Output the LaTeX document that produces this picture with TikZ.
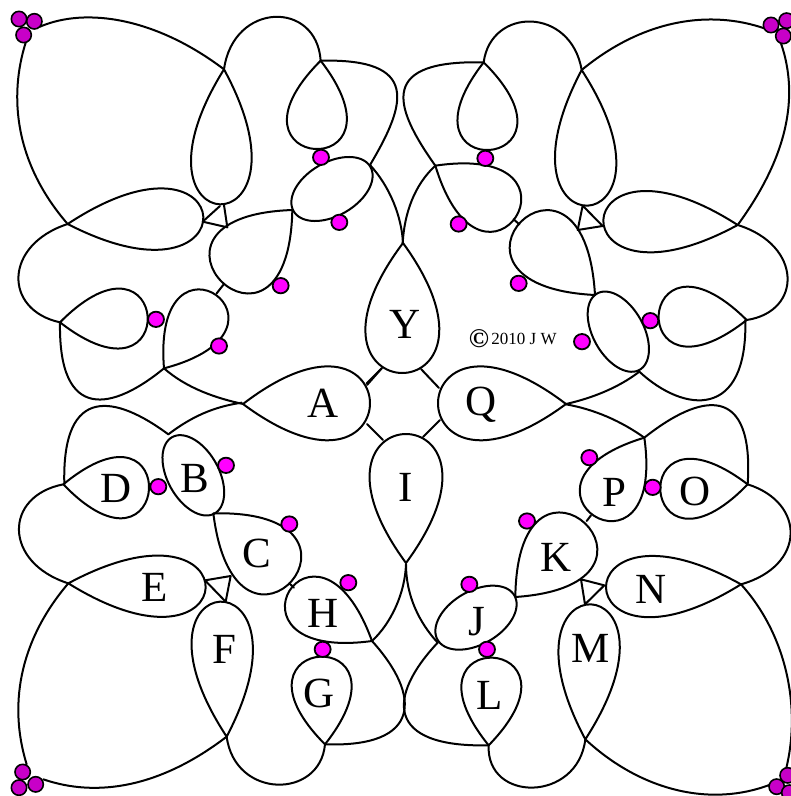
\documentclass[tikz,border=0pt]{standalone}
\usepackage{fontspec}
\setmainfont{Liberation Serif}
\definecolor{hotpink}{RGB}{255,0,255}
\definecolor{cornerpurple}{RGB}{200,0,200}
\tikzset{
 ink/.style={draw=black,line width=2pt,line join=round,line cap=round},
 zq/.style={x=.33333pt,y=-.33333pt},
 real/.style={x=1pt,y=-1pt},
 lbl/.style={font=\fontsize{43}{43}\selectfont,text height=28.5pt,text depth=0pt,inner sep=0pt,text=black},
 hot/.style={draw=black,line width=1.8pt,fill=hotpink},
 dark/.style={draw=black,line width=1.6pt,fill=cornerpurple}
}
% teardrop: one cubic loop from the cusp P, through far point F, half width w
\newcommand{\drop}[5]{%
 \pgfmathsetmacro\dL{veclen(#3-#1,#4-#2)}%
 \pgfmathsetmacro\dux{(#3-#1)/\dL}\pgfmathsetmacro\duy{(#4-#2)/\dL}%
 \pgfmathsetmacro\dax{#1+1.3333*(#3-#1)-3.46*(#5)*\duy}%
 \pgfmathsetmacro\day{#2+1.3333*(#4-#2)+3.46*(#5)*\dux}%
 \pgfmathsetmacro\dbx{#1+1.3333*(#3-#1)+3.46*(#5)*\duy}%
 \pgfmathsetmacro\dby{#2+1.3333*(#4-#2)-3.46*(#5)*\dux}%
 \draw[ink] (#1,#2) .. controls (\dax,\day) and (\dbx,\dby) .. (#1,#2);}
\newcommand{\elli}[5]{\draw[ink] plot[domain=0:360,samples=73,smooth]
 ({#1+#3*cos(\x)*cos(#5)-#4*sin(\x)*sin(#5)},{#2+#3*cos(\x)*sin(#5)+#4*sin(\x)*cos(#5)});}
\newcommand{\hd}[2]{\filldraw[hot] (#1,#2) ellipse [x radius=24,y radius=23];}
\newcommand{\dd}[2]{\filldraw[dark] (#1,#2) circle [radius=23];}
\begin{document}
\begin{tikzpicture}
\useasboundingbox (0,0) rectangle (791pt,-796pt);
\clip (0,0) rectangle (791pt,-796pt);
% top left
\begin{scope}[zq]
\draw[ink] (120,80) .. controls (260,20) and (470,55) .. (672,208);
\draw[ink] (78,125) .. controls (25,290) and (45,490) .. (203,672);
\draw[ink] (672,208) .. controls (700,5) and (950,0) .. (962,182);
\drop{672}{208}{660}{613}{91}
\drop{962}{182}{945}{447}{90}
\draw[ink] (962,182) .. controls (1260,175) and (1220,310) .. (1110,495);
\elli{996}{567}{133}{80}{-30}
\draw[ink] (1110,495) .. controls (1170,560) and (1205,650) .. (1209,729);
\draw[ink] (608,665)--(660,618) (608,665)--(682,682)--(672,615) (650,880)--(672,852) (1100,1150)--(1145,1105);
\drop{203}{672}{610}{650}{92}
\draw[ink] (203,672) .. controls (10,735) and (10,930) .. (180,967);
\drop{877}{630}{665}{845}{110}
\drop{180}{967}{443}{950}{90}
\drop{492}{1105}{648}{885}{87}
\draw[ink] (180,967) .. controls (175,1270) and (340,1230) .. (492,1105);
\draw[ink] (492,1105) .. controls (560,1165) and (650,1195) .. (729,1212);
\foreach \a/\b in {963/472,1018/667,842/857,468/958,657/1038}{\hd{\a}{\b}}
\foreach \a/\b in {57/57,103/64,71/105}{\dd{\a}{\b}}
\end{scope}
% top right
\begin{scope}[xshift=391pt,zq]
\draw[ink] (1120,85) .. controls (960,30) and (760,55) .. (572,210);
\draw[ink] (1170,130) .. controls (1225,290) and (1190,470) .. (1040,675);
\draw[ink] (278,187) .. controls (300,20) and (540,20) .. (572,210);
\drop{572}{210}{590}{617}{92}
\drop{278}{187}{295}{450}{90}
\draw[ink] (278,187) .. controls (-30,180) and (0,310) .. (133,497);
\draw[ink] (35,730) .. controls (40,640) and (70,555) .. (133,497);
\drop{133}{497}{375}{650}{95}
\draw[ink] (368,658)--(385,673) (575,617)--(560,690)--(635,678)--(575,617);
\drop{612}{885}{390}{665}{108}
\drop{1040}{675}{637}{660}{92}
\draw[ink] (1040,675) .. controls (1235,735) and (1235,935) .. (1067,960);
\drop{1067}{960}{803}{945}{90}
\elli{682}{995}{131}{76}{61}
\draw[ink] (1063,960) .. controls (1070,1260) and (880,1240) .. (745,1115);
\draw[ink] (745,1115) .. controls (680,1165) and (600,1195) .. (525,1212);
\foreach \a/\b in {283/475,203/672,383/850,778/962,573/1025}{\hd{\a}{\b}}
\foreach \a/\b in {1140/75,1187/62,1177/108}{\dd{\a}{\b}}
\end{scope}
% bottom left
\begin{scope}[yshift=-396pt,zq]
\draw[ink] (205,562) .. controls (70,720) and (20,910) .. (80,1105);
\draw[ink] (130,1150) .. controls (290,1205) and (480,1175) .. (680,1022);
\draw[ink] (205,562) .. controls (10,500) and (10,300) .. (190,265);
\drop{190}{265}{447}{280}{92}
\elli{580}{238}{131}{77}{61}
\draw[ink] (193,265) .. controls (185,-40) and (350,0) .. (505,115);
\draw[ink] (505,115) .. controls (590,50) and (660,30) .. (725,20);
\drop{205}{562}{617}{575}{92}
\drop{640}{352}{875}{555}{108}
\draw[ink] (692,540)--(615,553)--(677,617)--cycle (868,562)--(882,575);
\drop{1116}{735}{868}{585}{90}
\draw[ink] (1116,735) .. controls (1265,900) and (1265,1055) .. (975,1045);
\draw[ink] (1116,735) .. controls (1175,680) and (1215,590) .. (1218,505);
\drop{975}{1045}{960}{782}{90}
\drop{680}{1022}{660}{617}{92}
\draw[ink] (680,1022) .. controls (705,1210) and (960,1210) .. (975,1045);
\foreach \a/\b in {678/208,475/272,868/384,1045/560,968/760}{\hd{\a}{\b}}
\foreach \a/\b in {68/1128,107/1165,57/1175}{\dd{\a}{\b}}
\end{scope}
% bottom right
\begin{scope}[xshift=391pt,yshift=-396pt,zq]
\draw[ink] (525,25) .. controls (610,40) and (690,75) .. (760,125);
\draw[ink] (760,125) .. controls (930,-10) and (1090,-40) .. (1070,265);
\drop{760}{125}{610}{360}{92}
\draw[ink] (587,375)--(600,358) (570,550)--(582,625)--(640,568)--cycle;
\drop{1070}{265}{808}{285}{90}
\draw[ink] (1070,265) .. controls (1245,320) and (1245,510) .. (1050,565);
\drop{373}{603}{582}{382}{108}
\drop{1050}{565}{645}{575}{92}
\drop{583}{1030}{600}{625}{92}
\draw[ink] (583,1030) .. controls (560,1220) and (285,1220) .. (293,1048);
\drop{293}{1048}{305}{785}{90}
\draw[ink] (293,1048) .. controls (-20,1055) and (-10,900) .. (140,740);
\elli{255}{665}{133}{80}{-30}
\draw[ink] (45,505) .. controls (45,600) and (85,680) .. (140,740);
\draw[ink] (583,1030) .. controls (750,1185) and (960,1235) .. (1140,1165);
\draw[ink] (1050,565) .. controls (1190,720) and (1230,940) .. (1185,1120);
\foreach \a/\b in {595/185,785/274,408/375,235/565,288/760}{\hd{\a}{\b}}
\foreach \a/\b in {1157/1172,1190/1138,1195/1190}{\dd{\a}{\b}}
\end{scope}
% centre
\begin{scope}[real]
\drop{403}{243}{402}{373}{37}
\drop{243}{404}{370}{403}{37}
\drop{406}{563}{406}{434}{36.5}
\drop{566}{404}{438}{403}{37}
\draw[ink] (367,385)--(382,368) (367,424)--(383,440) (421,369)--(439,388) (423,437)--(440,420);
\node[lbl] (nY) at (405,324) {Y};
\node[lbl] (nA) at (323,403) {A};
\node[lbl] (nQ) at (481,401) {Q};
\node[lbl] (nI) at (406,487) {I};
\node[lbl] (nD) at (116,488) {D};
\node[lbl] (nB) at (195,478) {B};
\node[lbl] (nC) at (257,553) {C};
\node[lbl] (nE) at (155,587) {E};
\node[lbl] (nF) at (224,649) {F};
\node[lbl] (nH) at (323,613) {H};
\node[lbl] (nG) at (319,693) {G};
\node[lbl] (nP) at (614,492) {P};
\node[lbl] (nO) at (695,491) {O};
\node[lbl] (nK) at (556,557) {K};
\node[lbl] (nN) at (651,589) {N};
\node[lbl] (nM) at (591,648) {M};
\node[lbl] (nJ) at (477,621) {J};
\node[lbl] (nL) at (490,695) {L};
\node[inner sep=0pt,font=\bfseries\fontsize{27}{27}\selectfont] (copy) at (479,339) {©};
\node[inner sep=0pt,font=\fontsize{17}{17}\selectfont] (txt) at (524,339) {2010 J W};
\end{scope}
\end{tikzpicture}
\end{document}
